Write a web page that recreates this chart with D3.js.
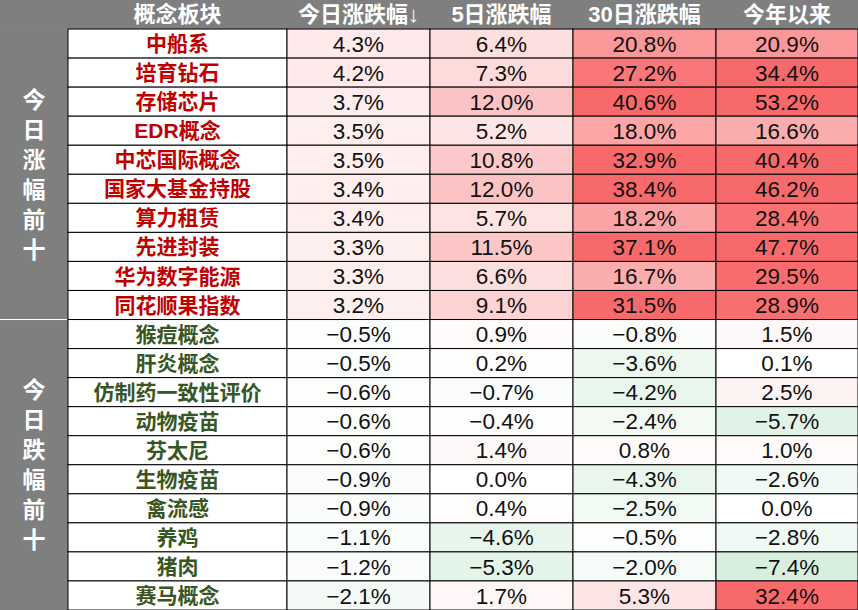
<!DOCTYPE html><html><head><meta charset="utf-8"><script src="https://cdn.jsdelivr.net/npm/d3@7"></script>
<style>body{margin:0;background:#fff}</style></head><body><svg id="c" width="858" height="610"></svg>
<script>
const headers=["概念板块","今日涨跌幅↓","5日涨跌幅","30日涨跌幅","今年以来"];
const groups=["今日涨幅前十","今日跌幅前十"];
const names=["中船系","培育钻石","存储芯片","EDR概念","中芯国际概念","国家大基金持股","算力租赁","先进封装","华为数字能源","同花顺果指数","猴痘概念","肝炎概念","仿制药一致性评价","动物疫苗","芬太尼","生物疫苗","禽流感","养鸡","猪肉","赛马概念"];
const d1=[4.3,4.2,3.7,3.5,3.5,3.4,3.4,3.3,3.3,3.2,-0.5,-0.5,-0.6,-0.6,-0.6,-0.9,-0.9,-1.1,-1.2,-2.1];
const d5=[6.4,7.3,12.0,5.2,10.8,12.0,5.7,11.5,6.6,9.1,0.9,0.2,-0.7,-0.4,1.4,0.0,0.4,-4.6,-5.3,1.7];
const d30=[20.8,27.2,40.6,18.0,32.9,38.4,18.2,37.1,16.7,31.5,-0.8,-3.6,-4.2,-2.4,0.8,-4.3,-2.5,-0.5,-2.0,5.3];
const ytd=[20.9,34.4,53.2,16.6,40.4,46.2,28.4,47.7,29.5,28.9,1.5,0.1,2.5,-5.7,1.0,-2.6,0.0,-2.8,-7.4,32.4];
const cols=[d1,d5,d30,ytd];
const svg=d3.select("#c");
const xEdges=[0,68,287,430,573,716,858];
const y=d3.scaleBand().domain(d3.range(-1,20)).range([0,610]);
const pos=d3.scaleLinear().domain([0,30]).range(["#ffffff","#f8696b"]).clamp(true);
const neg=d3.scaleLinear().domain([0,-30]).range(["#ffffff","#63be7b"]).clamp(true);
const col=v=>v>=0?pos(v):neg(v);
const font="'Liberation Sans','Noto Sans CJK SC',sans-serif";
svg.append("rect").attr("x",0).attr("y",0).attr("width",858).attr("height",y.bandwidth()).attr("fill","#7f7f7f");
headers.forEach((h,i)=>svg.append("text").attr("x",(xEdges[i+1]+xEdges[i+2])/2).attr("y",y(-1)+y.bandwidth()/2).attr("dy","0.36em").attr("text-anchor","middle").attr("fill","#fff").attr("font-weight","bold").attr("font-size",22).attr("font-family",font).text(h));
groups.forEach((g,gi)=>{
  const y0=y(gi*10),h=y.bandwidth()*10;
  svg.append("rect").attr("x",0).attr("y",y0).attr("width",68).attr("height",h).attr("fill","#7f7f7f");
  const chars=[...g];const step=30;const start=y0+h/2-step*(chars.length-1)/2;
  chars.forEach((c,k)=>svg.append("text").attr("x",34).attr("y",start+k*step).attr("dy","0.36em").attr("text-anchor","middle").attr("fill","#fff").attr("font-weight","bold").attr("font-size",23).attr("font-family",font).text(c));
});
svg.append("line").attr("x1",0).attr("x2",68).attr("y1",y(10)).attr("y2",y(10)).attr("stroke","#fff").attr("stroke-width",1);
names.forEach((n,r)=>{
  const yy=y(r),h=y.bandwidth();
  svg.append("rect").attr("x",68).attr("y",yy).attr("width",219).attr("height",h).attr("fill","#fff").attr("stroke","#000").attr("stroke-width",1);
  svg.append("text").attr("x",177.5).attr("y",yy+h/2).attr("dy","0.36em").attr("text-anchor","middle").attr("fill",r<10?"#c00000":"#375623").attr("font-weight","bold").attr("font-size",21).attr("font-family",font).text(n);
  cols.forEach((c,ci)=>{
    const x0=xEdges[ci+2],x1=xEdges[ci+3];
    svg.append("rect").attr("x",x0).attr("y",yy).attr("width",x1-x0).attr("height",h).attr("fill",col(c[r])).attr("stroke","#000").attr("stroke-width",1);
    svg.append("text").attr("x",(x0+x1)/2).attr("y",yy+h/2).attr("dy","0.36em").attr("text-anchor","middle").attr("fill","#111").attr("font-size",22.5).attr("font-family",font).text((c[r]<0?"\u2212":"")+Math.abs(c[r]).toFixed(1)+"%");
  });
});
</script></body></html>
